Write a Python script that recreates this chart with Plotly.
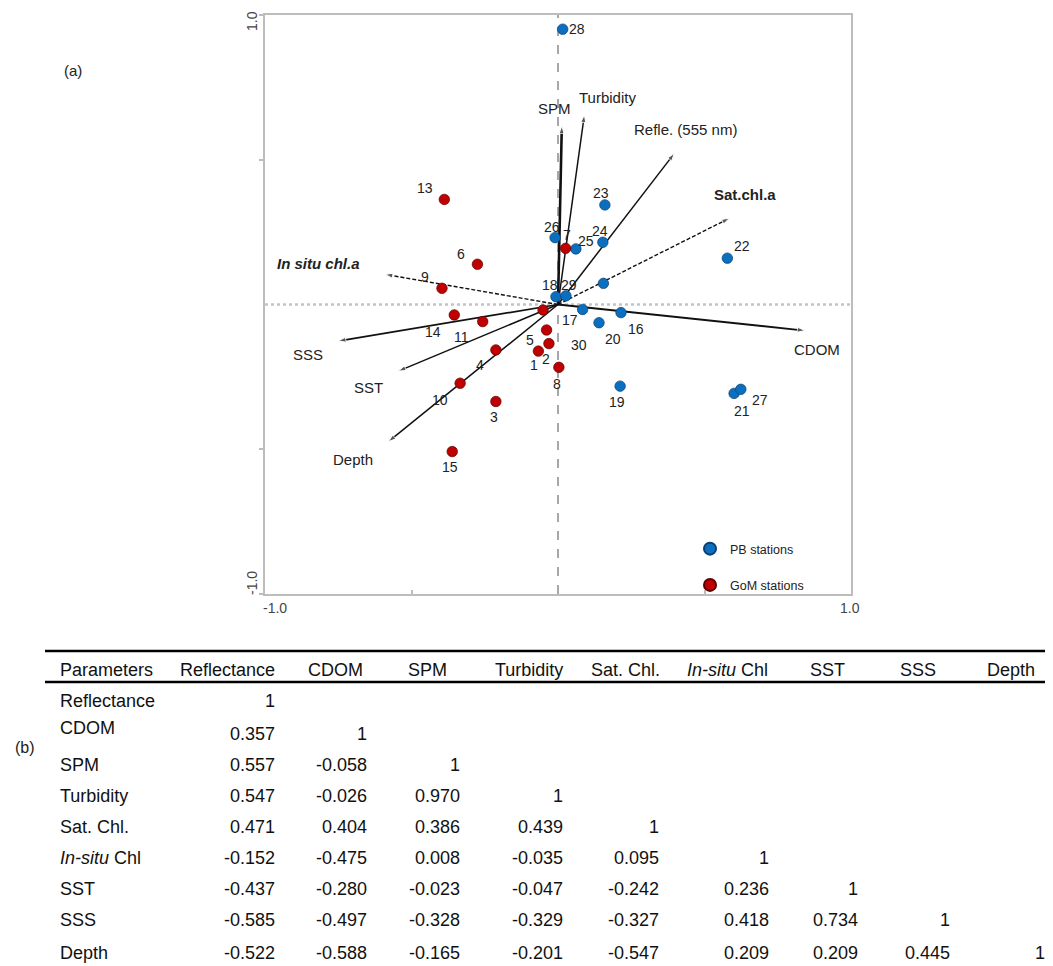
import plotly.graph_objects as go

# page body has an 8px margin: the figure is placed at (8, 8) in the window
W, H = 1053, 966
OFF = 8
FW, FH = W - OFF, H - OFF

# ---------------- data ----------------
pb_ids = ["28", "23", "24", "25", "26", "22", "30", "18", "29", "17", "20", "16", "19", "21", "27"]
pb_x = [0.016, 0.160, 0.153, 0.061, -0.010, 0.578, 0.155, -0.007, 0.027, 0.084, 0.140, 0.215, 0.212, 0.601, 0.624]
pb_y = [0.951, 0.344, 0.215, 0.192, 0.231, 0.160, 0.073, 0.027, 0.030, -0.017, -0.063, -0.028, -0.282, -0.307, -0.293]

gom_ids = ["13", "6", "9", "7", "14", "11", "12", "5", "2", "1", "8", "4", "10", "3", "15"]
gom_x = [-0.388, -0.275, -0.396, 0.026, -0.354, -0.257, -0.051, -0.039, -0.031, -0.067, 0.003, -0.212, -0.334, -0.212, -0.361]
gom_y = [0.363, 0.139, 0.056, 0.194, -0.036, -0.059, -0.019, -0.088, -0.135, -0.161, -0.217, -0.157, -0.272, -0.335, -0.508]

variables = ["SPM", "Turbidity", "Refle. (555 nm)", "<b>Sat.chl.a</b>", "CDOM",
             "<b><i>In situ chl.a</i></b>", "SSS", "SST", "Depth"]
load_x = [0.013, 0.090, 0.397, 0.585, 0.843, -0.590, -0.750, -0.545, -0.579]
load_y = [0.617, 0.655, 0.522, 0.298, -0.090, 0.104, -0.126, -0.230, -0.474]

axis_ticks = [-1, -0.5, 0.5, 1]
axis_labels = ["-1.0", "1.0"]

params = ["Reflectance", "CDOM", "SPM", "Turbidity", "Sat. Chl.", "<i>In-situ</i> Chl", "SST", "SSS", "Depth"]
corr = [
    [1],
    [0.357, 1],
    [0.557, -0.058, 1],
    [0.547, -0.026, 0.970, 1],
    [0.471, 0.404, 0.386, 0.439, 1],
    [-0.152, -0.475, 0.008, -0.035, 0.095, 1],
    [-0.437, -0.280, -0.023, -0.047, -0.242, 0.236, 1],
    [-0.585, -0.497, -0.328, -0.329, -0.327, 0.418, 0.734, 1],
    [-0.522, -0.588, -0.165, -0.201, -0.547, 0.209, 0.209, 0.445, 1],
]

# ---------------- layout helpers (window pixel positions -> paper) ----------------
def px(x):
    return (x - OFF) / FW

def py(y):
    return 1 - (y - OFF) / FH

PLOT_L, PLOT_R, PLOT_T, PLOT_B = 265, 851, 15, 594

pb_lbl_off = [(14, 0), (-4, -12), (-3, -11), (10, -8), (-3, -11), (15, -12), (-24, 62), (-6, -12),
              (3, -11), (-13, 11), (14, 16), (15, 16), (-3, 16), (8, 18), (19, 11)]
gom_lbl_off = [(-19, -11), (-16, -10), (-17, -11), (1, -13), (-21, 17), (-21, 15), None, (-17, 10),
               (-3, 15), (-4, 14), (-2, 17), (-16, 15), (-20, 17), (-2, 16), (-2, 15)]
var_lbl_off = [(-7, -17), (23, -17), (11, -24), (16, -24), (12, 19), (-67, -11), (-30, 14), (-30, 16), (-35, 18)]
var_dash = ["solid", "solid", "solid", "4px,2px", "solid", "4px,2px", "solid", "solid", "solid"]
var_width = [2.6, 1.5, 1.5, 1.4, 1.8, 1.4, 1.7, 1.5, 1.5]

# axis end labels: x labels placed below the frame, y labels rotated left of the frame
xlab_pos = [(275, 608), (850, 608)]
ylab_pos = [(252, 583), (252, 21)]

FONT = "Liberation Sans, Arial, sans-serif"
BLUE = "#0b6fc0"
RED = "#c00000"

fig = go.Figure()

# arrows (loadings)
for i, name in enumerate(variables):
    fig.add_trace(go.Scatter(
        x=[0, load_x[i]], y=[0, load_y[i]], mode="lines+markers",
        line=dict(color="#111111", width=var_width[i], dash=var_dash[i]),
        marker=dict(symbol="arrow", angleref="previous", size=[0, 8], color="#111111"),
        hoverinfo="skip", showlegend=False))

# stations
fig.add_trace(go.Scatter(
    x=pb_x, y=pb_y, mode="markers", name="PB stations", legendgroup="pb",
    marker=dict(color=BLUE, size=10.5, line=dict(color="#0a3f70", width=0.7)),
    text=pb_ids))
fig.add_trace(go.Scatter(
    x=gom_x, y=gom_y, mode="markers", name="GoM stations", legendgroup="gom",
    marker=dict(color=RED, size=10.5, line=dict(color="#5a0000", width=0.7)),
    text=gom_ids))

ann = []
for ids, xs, ys, offs in ((pb_ids, pb_x, pb_y, pb_lbl_off), (gom_ids, gom_x, gom_y, gom_lbl_off)):
    for t, x, y, o in zip(ids, xs, ys, offs):
        if o is None:
            continue
        ann.append(dict(x=x, y=y, xref="x", yref="y", text=t, showarrow=False,
                        xanchor="center", yanchor="middle",
                        xshift=o[0], yshift=-o[1], font=dict(family=FONT, size=14, color="#222222")))

for i, name in enumerate(variables):
    o = var_lbl_off[i]
    ann.append(dict(x=load_x[i], y=load_y[i], xref="x", yref="y", text=name, showarrow=False,
                    xanchor="center", yanchor="middle",
                    xshift=o[0], yshift=-o[1], font=dict(family=FONT, size=15, color="#222222")))

TICKFONT = dict(family=FONT, size=14, color="#444444")
for lab, (xx, yy) in zip(axis_labels, xlab_pos):
    ann.append(dict(x=px(xx), y=py(yy), xref="paper", yref="paper", text=lab, showarrow=False,
                    xanchor="center", yanchor="middle", font=TICKFONT))
for lab, (xx, yy) in zip(axis_labels, ylab_pos):
    ann.append(dict(x=px(xx), y=py(yy), xref="paper", yref="paper", text=lab, showarrow=False,
                    xanchor="center", yanchor="middle", textangle=-90, font=TICKFONT))

ann.append(dict(x=px(73), y=py(70), xref="paper", yref="paper", text="(a)", showarrow=False,
                xanchor="center", yanchor="middle", font=dict(family=FONT, size=15, color="#222222")))
ann.append(dict(x=px(25), y=py(747), xref="paper", yref="paper", text="(b)", showarrow=False,
                xanchor="center", yanchor="middle", font=dict(family=FONT, size=16, color="#222222")))

# ---------------- table ----------------
TFONT = dict(family=FONT, size=18, color="#111111")
col_right = [277, 369, 462, 565, 661, 771, 860, 952, 1047]
header_cx = [227, 335, 427, 529, 625, 727, 827, 918, 1011]
row_y = [701, 734, 765, 796, 827, 858, 889, 920, 953]
row_label_y = [701, 728, 765, 796, 827, 858, 889, 920, 953]
HEADER_Y = 670

ann.append(dict(x=px(58), y=py(HEADER_Y), xref="paper", yref="paper", text="Parameters",
                showarrow=False, xanchor="left", yanchor="middle", font=TFONT))
for j, p in enumerate(params):
    ann.append(dict(x=px(header_cx[j]), y=py(HEADER_Y), xref="paper", yref="paper", text=p,
                    showarrow=False, xanchor="center", yanchor="middle", font=TFONT))
for i, p in enumerate(params):
    ann.append(dict(x=px(58), y=py(row_label_y[i]), xref="paper", yref="paper", text=p,
                    showarrow=False, xanchor="left", yanchor="middle", font=TFONT))
    for j, v in enumerate(corr[i]):
        s = "1" if v == 1 else f"{v:.3f}"
        ann.append(dict(x=px(col_right[j]), y=py(row_y[i]), xref="paper", yref="paper", text=s,
                        showarrow=False, xanchor="right", yanchor="middle", font=TFONT))

shapes = [
    dict(type="line", xref="x", yref="y", x0=0, x1=0, y0=-1, y1=1,
         line=dict(color="#8a8a8a", width=1.5, dash="dash"), layer="below"),
    dict(type="line", xref="x", yref="y", x0=-1, x1=1, y0=0, y1=0,
         line=dict(color="#c4c4c4", width=2.5, dash="dot"), layer="below"),
    dict(type="line", xref="paper", yref="paper", x0=px(45), x1=1, y0=py(651), y1=py(651),
         line=dict(color="#000000", width=2.5)),
    dict(type="line", xref="paper", yref="paper", x0=px(45), x1=1, y0=py(682), y1=py(682),
         line=dict(color="#000000", width=2.5)),
]

fig.update_layout(
    width=FW, height=FH, margin=dict(l=0, r=0, t=0, b=0, autoexpand=False),
    paper_bgcolor="white", plot_bgcolor="white",
    annotations=ann, shapes=shapes,
    font=dict(family=FONT, color="#222222"),
    xaxis=dict(domain=[px(PLOT_L), px(PLOT_R)], range=[-1, 1], showgrid=False, zeroline=False,
               automargin=False,
               showline=True, mirror=True, linecolor="#bdbdbd", linewidth=2,
               tickvals=axis_ticks, showticklabels=False,
               ticks="inside", ticklen=4, tickcolor="#bdbdbd", tickwidth=1.5),
    yaxis=dict(domain=[py(PLOT_B), py(PLOT_T)], range=[-1, 1], showgrid=False, zeroline=False,
               automargin=False,
               showline=True, mirror=True, linecolor="#bdbdbd", linewidth=2,
               tickvals=axis_ticks, showticklabels=False,
               ticks="outside", ticklen=4, tickcolor="#bdbdbd", tickwidth=1.5),
    legend=dict(x=px(690), y=py(534), xanchor="left", yanchor="top", bgcolor="rgba(0,0,0,0)",
                font=dict(family=FONT, size=12.5, color="#222222"), tracegroupgap=17,
                traceorder="grouped", itemsizing="constant", itemwidth=30),
)

fig.write_html("out.html")
